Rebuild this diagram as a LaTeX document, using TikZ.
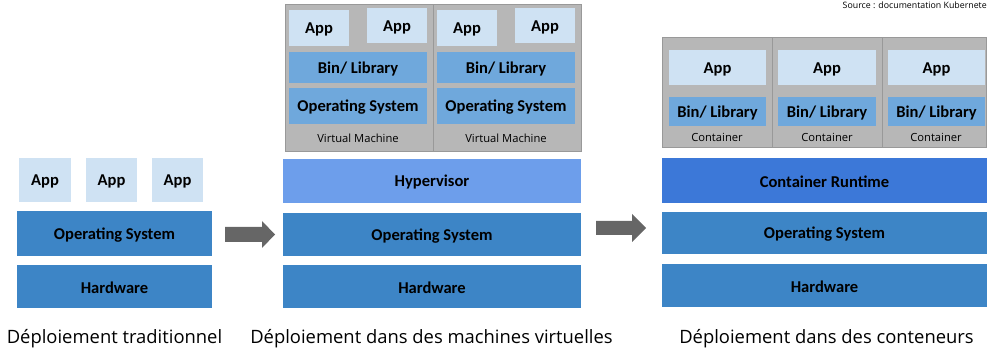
\documentclass[tikz,border=0pt]{standalone}
\usepackage{fontspec}
\setmainfont{Open Sans}
\newfontfamily\boxfont{Carlito}
\usetikzlibrary{fit}
\definecolor{applight}{HTML}{CFE2F3}
\definecolor{osblue}{HTML}{3D85C6}
\definecolor{libblue}{HTML}{6FA8DC}
\definecolor{hypblue}{HTML}{6D9EEB}
\definecolor{crblue}{HTML}{3C78D8}
\definecolor{vmgray}{HTML}{B7B7B7}
\definecolor{vmedge}{HTML}{999999}
\definecolor{arrowgray}{HTML}{666666}
\begin{document}
\begin{tikzpicture}[x=0.75pt,y=-0.75pt,
 lbl/.style={inner sep=0pt, yshift=-1.1pt, font=\boxfont\bfseries\fontsize{12.4}{14}\selectfont, text=black},
 lay/.style={inner sep=0pt, outer sep=0pt, label={[lbl]center:#1}},
 app/.style={lay=#1, fill=applight},
 osbox/.style={lay=#1, fill=osblue},
 lib/.style={lay=#1, fill=libblue},
 shell/.style={inner sep=0pt, outer sep=0pt, fill=vmgray, draw=vmedge, line width=0.75pt},
 small/.style={inner sep=0pt, font=\fontsize{8.4}{10}\selectfont},
 caption/.style={inner sep=0pt, anchor=base, font=\fontsize{13.8}{16}\selectfont},
 blockarrow/.style={fill=arrowgray},
]
\useasboundingbox (0,0) rectangle (987,348);

% Source
\node[inner sep=0pt, anchor=east, font=\fontsize{6.6}{8}\selectfont] (src) at (987,5) {Source : documentation Kubernete};

% ---------- Traditional ----------
\node[app=App, fit={(19,158)(71,202)}] (t-app1) {};
\node[app=App, fit={(86,158)(137,202)}] (t-app2) {};
\node[app=App, fit={(152,158)(203,202)}] (t-app3) {};
\node[osbox=Operating System, fit={(17,211)(212,256)}] (t-os) {};
\node[osbox=Hardware, fit={(17,265)(212,308)}] (t-hw) {};
\node[caption] (t-cap) at (114.5,344) {Déploiement traditionnel};

% ---------- Virtual machines ----------
\node[shell, fit={(285,5)(433,152)}] (vm1) {};
\node[shell, fit={(433,5)(581,152)}] (vm2) {};
\node[app=App, fit={(289,10)(349,46)}] (v1-app1) {};
\node[app=App, fit={(367,8)(427,43)}] (v1-app2) {};
\node[lib={Bin/ Library}, fit={(289,52)(427,83)}] (v1-lib) {};
\node[lib=Operating System, fit={(289,88)(427,124)}] (v1-os) {};
\node[small] (v1-lab) at (358,138) {Virtual Machine};
\node[app=App, fit={(437,10)(497,46)}] (v2-app1) {};
\node[app=App, fit={(515,8)(575,43)}] (v2-app2) {};
\node[lib={Bin/ Library}, fit={(437,52)(575,83)}] (v2-lib) {};
\node[lib=Operating System, fit={(437,88)(575,124)}] (v2-os) {};
\node[small] (v2-lab) at (506,138) {Virtual Machine};
\node[lay=Hypervisor, fill=hypblue, fit={(283,159)(581,203)}] (v-hyp) {};
\node[osbox=Operating System, fit={(283,213)(581,256)}] (v-os) {};
\node[osbox=Hardware, fit={(283,265)(581,308)}] (v-hw) {};
\node[caption] (v-cap) at (431.5,344) {Déploiement dans des machines virtuelles};

% ---------- Containers ----------
\node[shell, fit={(662,38)(772,148)}] (c1) {};
\node[shell, fit={(772,38)(882,148)}] (c2) {};
\node[shell, fit={(882,38)(986,148)}] (c3) {};
\node[app=App, fit={(669,50)(766,85)}] (c1-app) {};
\node[app=App, fit={(778,50)(876,85)}] (c2-app) {};
\node[app=App, fit={(888,50)(985,85)}] (c3-app) {};
\node[lib={Bin/ Library}, fit={(669,97)(766,126)}] (c1-lib) {};
\node[lib={Bin/ Library}, fit={(778,97)(876,126)}] (c2-lib) {};
\node[lib={Bin/ Library}, fit={(888,97)(985,126)}] (c3-lib) {};
\node[small] (c1-lab) at (717,137) {Container};
\node[small] (c2-lab) at (827,137) {Container};
\node[small] (c3-lab) at (936,137) {Container};
\node[lay=Container Runtime, fill=crblue, fit={(662,158)(987,203)}] (c-rt) {};
\node[osbox=Operating System, fit={(662,212)(987,254)}] (c-os) {};
\node[osbox=Hardware, fit={(662,264)(987,307)}] (c-hw) {};
\node[caption] (c-cap) at (826.5,344) {Déploiement dans des conteneurs};

% ---------- Block arrows ----------
\coordinate (a1) at (225,234.5);
\coordinate (a2) at (596,228);
\fill[blockarrow] (a1) ++(0,-7.5) -- ++(37,0) -- ++(0,-6) -- ++(13,13.5) -- ++(-13,13.5) -- ++(0,-6) -- ++(-37,0) -- cycle;
\fill[blockarrow] (a2) ++(0,-7) -- ++(36,0) -- ++(0,-7) -- ++(14,14) -- ++(-14,14) -- ++(0,-7) -- ++(-36,0) -- cycle;
\end{tikzpicture}
\end{document}
